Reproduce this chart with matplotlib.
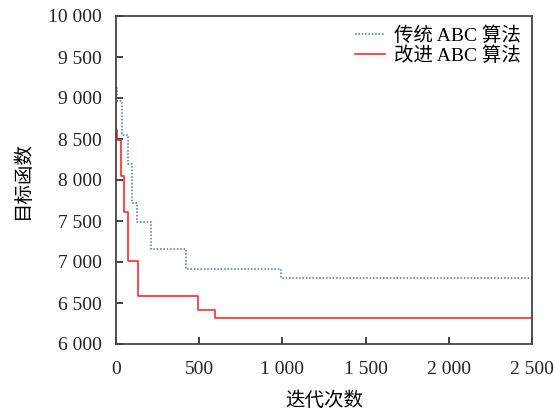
import matplotlib
matplotlib.use('Agg')
import matplotlib.pyplot as plt
from matplotlib.ticker import FuncFormatter

plt.rcParams['font.family'] = ['Liberation Serif', 'Noto Sans CJK SC']

# 迭代次数 / 目标函数 (从图上读取的阶跃点)
abc_iter = [0, 6, 34, 70, 94, 124, 210, 421, 992, 2500]
abc_val = [9120, 8960, 8550, 8200, 7720, 7490, 7160, 6915, 6810, 6810]

iabc_iter = [0, 8, 28, 50, 74, 130, 495, 595, 2500]
iabc_val = [8610, 8490, 8050, 7610, 7010, 6580, 6410, 6320, 6320]

labels = ['传统 ABC 算法', '改进 ABC 算法']
x_ticks = [0, 500, 1000, 1500, 2000, 2500]
y_ticks = [6000, 6500, 7000, 7500, 8000, 8500, 9000, 9500, 10000]


def thousands(v, pos):
    return f"{int(v):,}".replace(',', ' ')


fig = plt.figure(figsize=(5.55, 4.12), dpi=100)
ax = fig.add_axes([116 / 555, 1 - 344 / 412, 416 / 555, 328 / 412])

ax.plot(abc_iter, abc_val, drawstyle='steps-post', color='#4a70c0',
        linestyle=(0, (1, 1.2)), linewidth=1.1, label=labels[0])
ax.plot(iabc_iter, iabc_val, drawstyle='steps-post', color='#ff2a2a',
        linewidth=1.2, label=labels[1])

ax.set_xlim(0, 2500)
ax.set_ylim(6000, 10000)
ax.set_xticks(x_ticks)
ax.set_yticks(y_ticks)
ax.xaxis.set_major_formatter(FuncFormatter(thousands))
ax.yaxis.set_major_formatter(FuncFormatter(thousands))
ax.tick_params(direction='in', length=5, width=1.2, labelsize=14, colors='#222222')
ax.tick_params(axis='y', pad=10)
ax.tick_params(axis='x', pad=12)
for s in ax.spines.values():
    s.set_linewidth(1.3)
    s.set_color('#444444')

ax.set_xlabel('迭代次数', fontsize=14, labelpad=10)
ax.set_ylabel('目标函数', fontsize=14, labelpad=12)

ax.legend(loc='upper right', frameon=False, fontsize=14, handlelength=1.55,
          borderaxespad=0.15, labelspacing=0.05, handletextpad=0.5)

fig.savefig('out.png', dpi=100)
